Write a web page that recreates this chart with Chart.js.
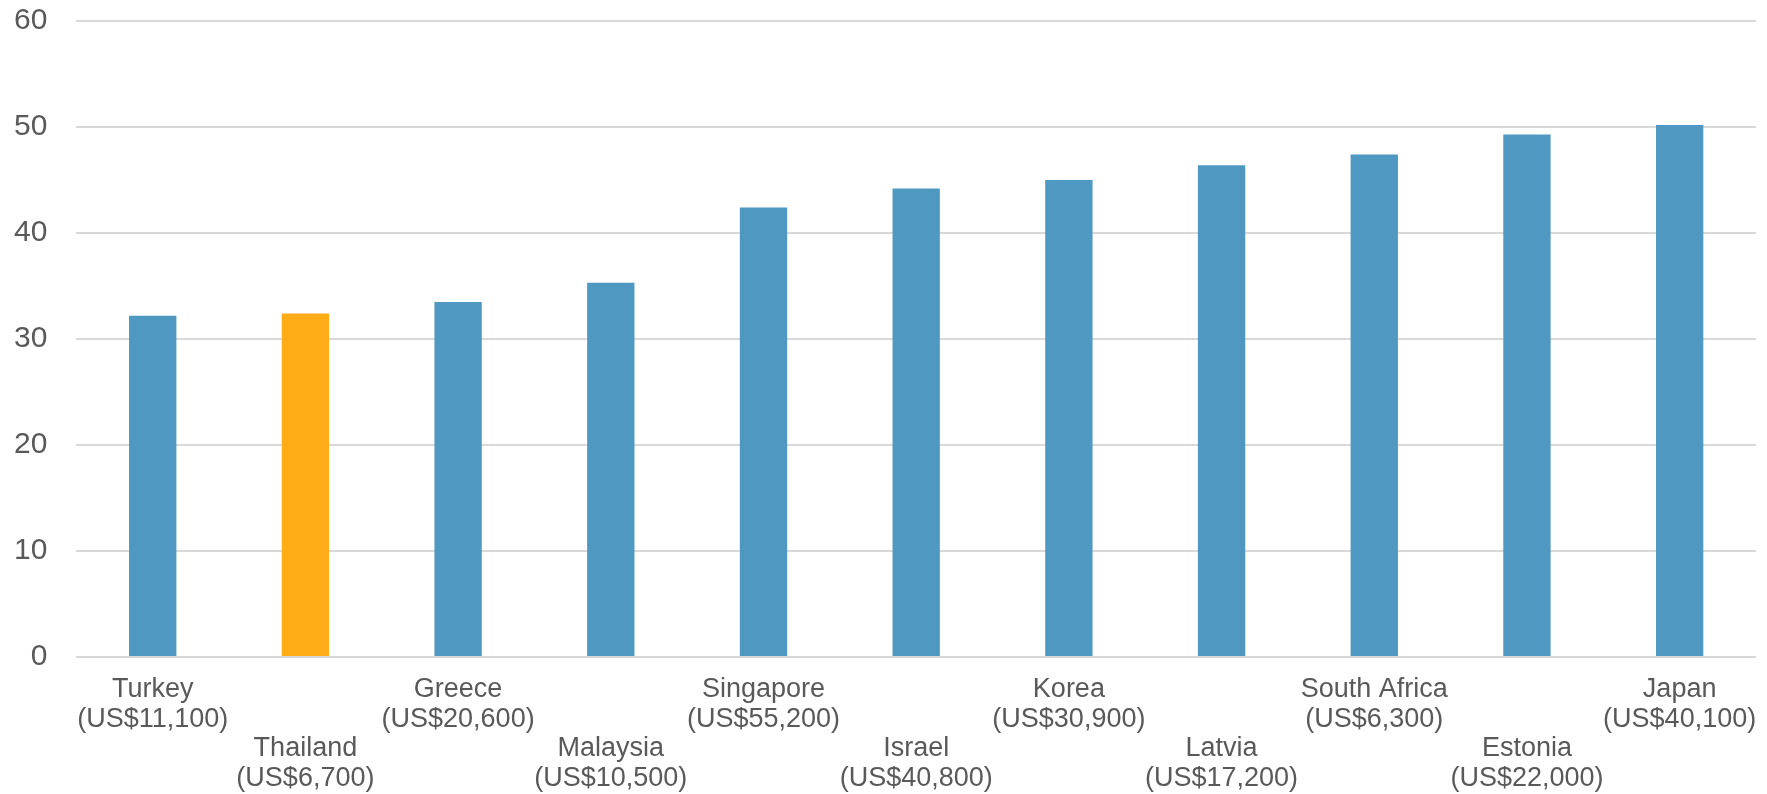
<!DOCTYPE html>
<html>
<head>
<meta charset="utf-8">
<script src="https://cdn.jsdelivr.net/npm/chart.js@4/dist/chart.umd.min.js"></script>
<style>
  html, body { margin: 0; padding: 0; background: #fff; }
  #wrap { width: 1767px; height: 794px; }
</style>
</head>
<body>
<div id="wrap"><canvas id="chart"></canvas></div>
<script>
// countries and GDP per capita captions
const countries = ['Turkey', 'Thailand', 'Greece', 'Malaysia', 'Singapore', 'Israel',
    'Korea', 'Latvia', 'South Africa', 'Estonia', 'Japan'];
const incomes = ['US$11,100', 'US$6,700', 'US$20,600', 'US$10,500', 'US$55,200', 'US$40,800',
    'US$30,900', 'US$17,200', 'US$6,300', 'US$22,000', 'US$40,100'];
const values = [32.2, 32.4, 33.5, 35.3, 42.4, 44.2, 45.0, 46.4, 47.4, 49.3, 50.2];
const yTicks = [0, 10, 20, 30, 40, 50, 60];

const blue = '#4E98C2';
const orange = '#FFAC17';
const textGrey = '#595959';

// odd categories drop down two lines so neighbours don't collide
const labels = countries.map((c, i) => {
    const lines = [c, '(' + incomes[i] + ')'];
    return i % 2 === 0 ? lines : ['', ''].concat(lines);
});

const barColors = countries.map(c => c === 'Thailand' ? orange : blue);

new Chart(document.getElementById('chart'), {
    type: 'bar',
    data: {
        labels: labels,
        datasets: [{
            data: values,
            backgroundColor: barColors,
            borderWidth: 0,
            categoryPercentage: 1,
            barPercentage: 0.31
        }]
    },
    options: {
        responsive: true,
        maintainAspectRatio: false,
        animation: false,
        layout: { padding: { left: 11, right: 11, top: 1, bottom: -3 } },
        plugins: {
            legend: { display: false },
            tooltip: { enabled: false }
        },
        scales: {
            x: {
                // invisible tick marks give the gap under the axis without
                // inflating the side padding that ticks.padding would add
                grid: { display: true, color: 'transparent', drawTicks: true, tickLength: 14, tickColor: 'transparent' },
                border: { display: false },
                ticks: {
                    autoSkip: false,
                    maxRotation: 0,
                    minRotation: 0,
                    padding: 3,
                    color: textGrey,
                    font: { family: 'Liberation Sans', size: 27, lineHeight: 1.11 }
                }
            },
            y: {
                min: yTicks[0],
                max: yTicks[yTicks.length - 1],
                afterBuildTicks: axis => { axis.ticks = yTicks.map(v => ({ value: v })); },
                grid: { color: '#D9D9D9', lineWidth: 2, drawTicks: true, tickLength: 26, tickColor: 'transparent' },
                border: { display: false },
                ticks: {
                    padding: 3,
                    color: textGrey,
                    font: { family: 'Liberation Sans', size: 30 }
                }
            }
        }
    }
});
</script>
</body>
</html>
